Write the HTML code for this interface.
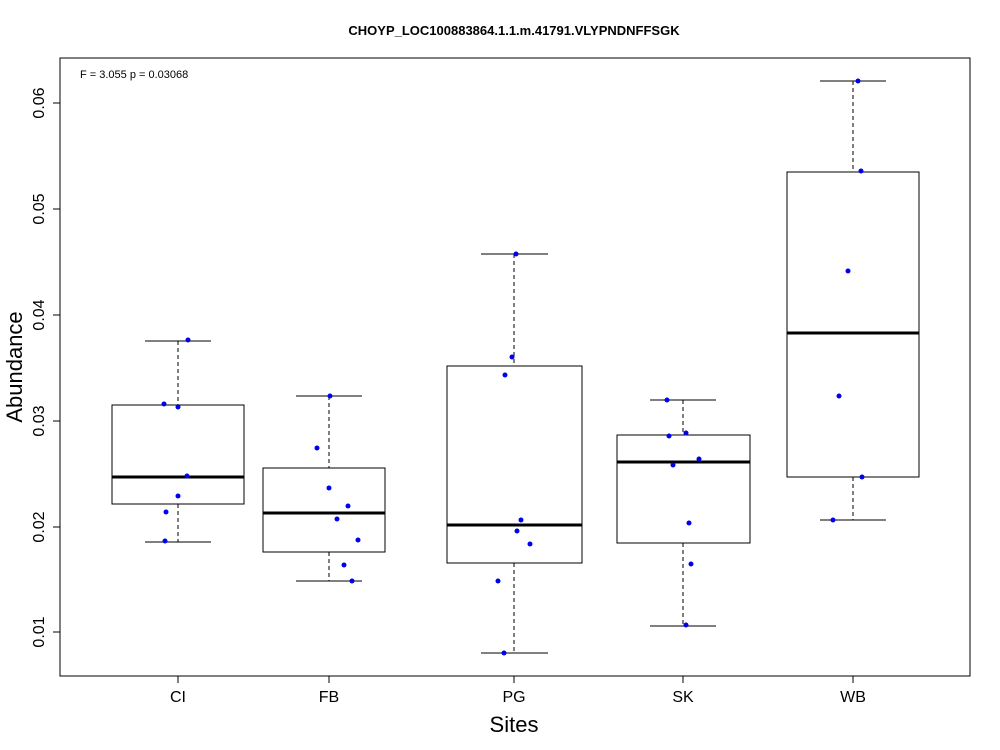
<!DOCTYPE html>
<html><head><meta charset="utf-8"><style>body{margin:0;background:#fff}svg{display:block}</style></head>
<body>
<svg width="1000" height="750" xmlns="http://www.w3.org/2000/svg" font-family="Liberation Sans, Arial, sans-serif">
<rect width="1000" height="750" fill="#fff"/>
<text x="514" y="35" text-anchor="middle" font-size="13" font-weight="bold">CHOYP_LOC100883864.1.1.m.41791.VLYPNDNFFSGK</text>
<rect x="60" y="58" width="910" height="618" fill="none" stroke="#000"/>
<text x="80" y="78" font-size="11">F = 3.055 p = 0.03068</text>
<g stroke="#000">
<line x1="60" y1="103" x2="60" y2="632"/>
<line x1="53" y1="103" x2="60" y2="103"/><line x1="53" y1="209" x2="60" y2="209"/><line x1="53" y1="315" x2="60" y2="315"/><line x1="53" y1="421" x2="60" y2="421"/><line x1="53" y1="527" x2="60" y2="527"/><line x1="53" y1="632" x2="60" y2="632"/>
<line x1="178" y1="676" x2="853" y2="676"/>
<line x1="178" y1="676" x2="178" y2="683"/><line x1="329" y1="676" x2="329" y2="683"/><line x1="514" y1="676" x2="514" y2="683"/><line x1="683" y1="676" x2="683" y2="683"/><line x1="853" y1="676" x2="853" y2="683"/>
</g>
<g font-size="16" text-anchor="middle">
<text transform="translate(44,103) rotate(-90)">0.06</text>
<text transform="translate(44,209) rotate(-90)">0.05</text>
<text transform="translate(44,315) rotate(-90)">0.04</text>
<text transform="translate(44,421) rotate(-90)">0.03</text>
<text transform="translate(44,527) rotate(-90)">0.02</text>
<text transform="translate(44,632) rotate(-90)">0.01</text>
<text x="178" y="702">CI</text><text x="329" y="702">FB</text><text x="514" y="702">PG</text><text x="683" y="702">SK</text><text x="853" y="702">WB</text>
</g>
<text x="514" y="732" text-anchor="middle" font-size="22">Sites</text>
<text transform="translate(22,367) rotate(-90)" text-anchor="middle" font-size="22">Abundance</text>
<g stroke="#000" fill="none">
<!-- CI -->
<line x1="178" y1="341" x2="178" y2="405" stroke-dasharray="4,3"/><line x1="178" y1="504" x2="178" y2="542" stroke-dasharray="4,3"/>
<line x1="145" y1="341" x2="211" y2="341"/><line x1="145" y1="542" x2="211" y2="542"/>
<rect x="112" y="405" width="132" height="99"/><line x1="112" y1="477" x2="244" y2="477" stroke-width="3"/>
<!-- FB -->
<line x1="329" y1="396" x2="329" y2="468" stroke-dasharray="4,3"/><line x1="329" y1="552" x2="329" y2="581" stroke-dasharray="4,3"/>
<line x1="296" y1="396" x2="362" y2="396"/><line x1="296" y1="581" x2="362" y2="581"/>
<rect x="263" y="468" width="122" height="84"/><line x1="263" y1="513" x2="385" y2="513" stroke-width="3"/>
<!-- PG -->
<line x1="514" y1="254" x2="514" y2="366" stroke-dasharray="4,3"/><line x1="514" y1="563" x2="514" y2="653" stroke-dasharray="4,3"/>
<line x1="481" y1="254" x2="548" y2="254"/><line x1="481" y1="653" x2="548" y2="653"/>
<rect x="447" y="366" width="135" height="197"/><line x1="447" y1="525" x2="582" y2="525" stroke-width="3"/>
<!-- SK -->
<line x1="683" y1="400" x2="683" y2="435" stroke-dasharray="4,3"/><line x1="683" y1="543" x2="683" y2="626" stroke-dasharray="4,3"/>
<line x1="650" y1="400" x2="716" y2="400"/><line x1="650" y1="626" x2="716" y2="626"/>
<rect x="617" y="435" width="133" height="108"/><line x1="617" y1="462" x2="750" y2="462" stroke-width="3"/>
<!-- WB -->
<line x1="853" y1="81" x2="853" y2="172" stroke-dasharray="4,3"/><line x1="853" y1="477" x2="853" y2="520" stroke-dasharray="4,3"/>
<line x1="820" y1="81" x2="886" y2="81"/><line x1="820" y1="520" x2="886" y2="520"/>
<rect x="787" y="172" width="132" height="305"/><line x1="787" y1="333" x2="919" y2="333" stroke-width="3"/>
</g>
<g fill="#0000ee">
<circle cx="188" cy="340" r="2.5"/><circle cx="164" cy="404" r="2.5"/><circle cx="178" cy="407" r="2.5"/><circle cx="187" cy="476" r="2.5"/><circle cx="178" cy="496" r="2.5"/><circle cx="166" cy="512" r="2.5"/><circle cx="165" cy="541" r="2.5"/>
<circle cx="330" cy="396" r="2.5"/><circle cx="317" cy="448" r="2.5"/><circle cx="329" cy="488" r="2.5"/><circle cx="348" cy="506" r="2.5"/><circle cx="337" cy="519" r="2.5"/><circle cx="358" cy="540" r="2.5"/><circle cx="344" cy="565" r="2.5"/><circle cx="352" cy="581" r="2.5"/>
<circle cx="516" cy="254" r="2.5"/><circle cx="512" cy="357" r="2.5"/><circle cx="505" cy="375" r="2.5"/><circle cx="521" cy="520" r="2.5"/><circle cx="517" cy="531" r="2.5"/><circle cx="530" cy="544" r="2.5"/><circle cx="498" cy="581" r="2.5"/><circle cx="504" cy="653" r="2.5"/>
<circle cx="667" cy="400" r="2.5"/><circle cx="669" cy="436" r="2.5"/><circle cx="686" cy="433" r="2.5"/><circle cx="699" cy="459" r="2.5"/><circle cx="673" cy="465" r="2.5"/><circle cx="689" cy="523" r="2.5"/><circle cx="691" cy="564" r="2.5"/><circle cx="686" cy="625" r="2.5"/>
<circle cx="858" cy="81" r="2.5"/><circle cx="861" cy="171" r="2.5"/><circle cx="848" cy="271" r="2.5"/><circle cx="839" cy="396" r="2.5"/><circle cx="862" cy="477" r="2.5"/><circle cx="833" cy="520" r="2.5"/>
</g>
</svg>
</body></html>
